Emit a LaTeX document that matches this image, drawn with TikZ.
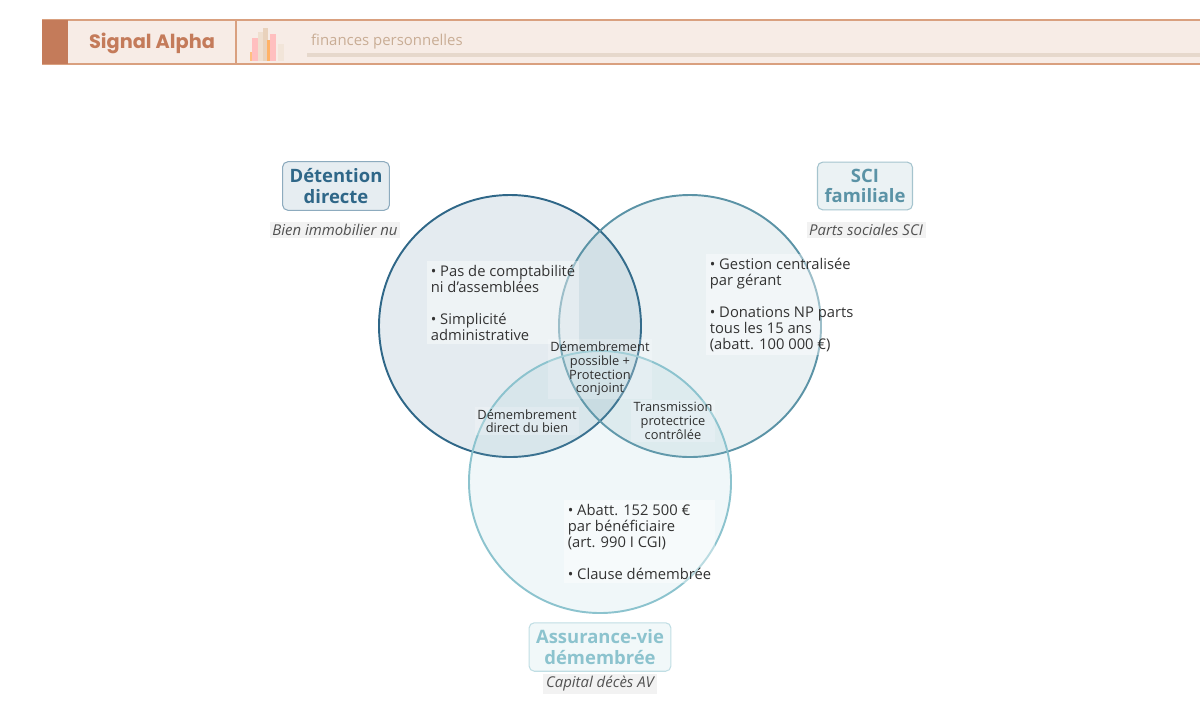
\documentclass[tikz,border=0pt]{standalone}
\usepackage{fontspec}
\setmainfont{Open Sans}
\newfontfamily\headfont{Poppins}
\definecolor{hdrbg}{HTML}{F7ECE6}
\definecolor{hdrline}{HTML}{D9A07F}
\definecolor{hdrdark}{HTML}{C47B5A}
\definecolor{hdrsub}{HTML}{C9AD95}
\definecolor{hdrbar}{HTML}{E6D8CC}
\definecolor{colA}{HTML}{2F6788}
\definecolor{colB}{HTML}{5B93A6}
\definecolor{colC}{HTML}{8CC3CE}
\definecolor{txt}{HTML}{333333}
\tikzset{
  setcirc/.style={draw=#1, line width=1.1pt, fill=#1, fill opacity=0.13},
  settitle/.style={draw=#1!55, fill=#1!12, text=#1, rounded corners=3pt, line width=0.6pt,
    font=\fontsize{10.5}{11.5}\selectfont\bfseries, align=center, inner sep=4pt, minimum width=1.9cm},
  setsub/.style={fill=black!5, text=txt!85, font=\fontsize{8.5}{10}\selectfont\itshape, inner sep=1.5pt},
  itemtxt/.style={fill=white, fill opacity=0.4, text opacity=1, text=txt, align=left,
    font=\fontsize{8.4}{9.2}\selectfont, inner sep=2pt, anchor=north west},
  midtxt/.style={fill=white, fill opacity=0.2, text opacity=1, text=txt!90!black, align=center,
    font=\fontsize{7.3}{7.8}\selectfont, inner sep=1.5pt}
}
\begin{document}
\begin{tikzpicture}[x=0.02cm,y=-0.02cm]
\useasboundingbox (0,0) rectangle (1200,721);
% header
\fill[hdrbg] (42,20) rectangle (1200,64);
\draw[hdrline, line width=0.6pt] (42,20) -- (1200,20) (42,64) -- (1200,64) (236,20) -- (236,64);
\fill[hdrdark] (42,20) rectangle (68,64);
\node[text=hdrdark, font=\headfont\fontsize{11}{12}\selectfont\bfseries] (brand) at (152,43) {Signal Alpha};
\foreach \xa/\ya/\xb/\cl in {250/52/256/orange!50,252/38/258/red!25,258/32/264/brown!25,263/28/268/brown!35,267/40/272/orange!60,270/34/276/red!25,278/44/284/brown!20}
  \fill[\cl] (\xa,\ya) rectangle (\xb,61);
\node[text=hdrsub, font=\fontsize{8.5}{10}\selectfont, anchor=west] (subtitle) at (305,42) {finances personnelles};
\draw[hdrbar, line width=2.2pt] (307,55) -- (1200,55);
% circles
\draw[setcirc=colA] (510,326) circle (131);
\draw[setcirc=colB] (690,326) circle (131);
\draw[setcirc=colC] (600,482) circle (131);
% titles
\node[settitle=colA] (tA) at (336,186) {Détention\\directe};
\node[setsub] (sA) at (335,230) {Bien immobilier nu};
\node[settitle=colB] (tB) at (865,186) {SCI\\familiale};
\node[setsub] (sB) at (866,230) {Parts sociales SCI};
\node[settitle=colC] (tC) at (600,647) {Assurance-vie\\démembrée};
\node[setsub] (sC) at (600,684) {Capital décès AV};
% items
\node[itemtxt] (iA) at (427,261) {• Pas de comptabilité\\ni d'assemblées\\[9pt]• Simplicité\\administrative};
\node[itemtxt] (iB) at (706,254) {• Gestion centralisée\\par gérant\\[9pt]• Donations NP parts\\tous les 15 ans\\(abatt. 100 000 €)};
\node[itemtxt] (iC) at (564,500) {• Abatt. 152 500 €\\par bénéficiaire\\(art. 990 I CGI)\\[9pt]• Clause démembrée};
% intersections
\node[midtxt] (mABC) at (600,369) {Démembrement\\possible +\\Protection\\conjoint};
\node[midtxt] (mAC) at (527,421) {Démembrement\\direct du bien};
\node[midtxt] (mBC) at (673,421) {Transmission\\protectrice\\contrôlée};
\end{tikzpicture}
\end{document}
